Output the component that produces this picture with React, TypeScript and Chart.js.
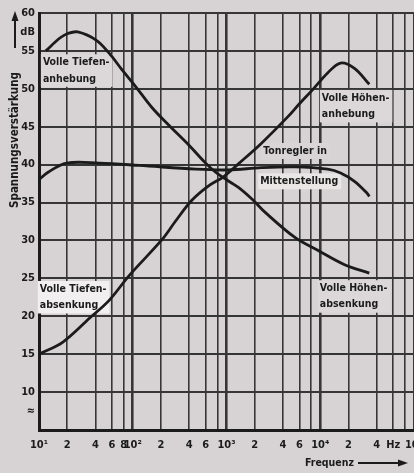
import React, { useEffect, useRef } from "react";
import { Chart, registerables } from "chart.js";

Chart.register(...registerables);

// ---------- data ----------
const freqDown = [11.8, 16.7, 20.3, 25.9, 41, 56, 77, 109, 161, 243, 396, 600, 822, 1340, 1930, 2590, 5370, 9420, 18200, 33400];
const gainDown = [55.0, 56.7, 57.3, 57.5, 56.4, 54.7, 52.5, 50.2, 47.5, 45.2, 42.6, 40.2, 38.7, 37.0, 35.3, 33.7, 30.4, 28.7, 26.8, 25.7];

const freqUp = [10, 18, 35, 56, 92, 205, 288, 427, 645, 930, 1340, 2350, 4500, 6070, 8320, 12000, 16500, 23200, 33400];
const gainUp = [15.0, 16.6, 19.8, 22.1, 25.4, 30.1, 32.6, 35.3, 37.2, 38.4, 40.1, 42.8, 46.3, 48.1, 49.9, 52.1, 53.4, 52.7, 50.6];

const freqMid = [10, 12.5, 19.7, 44, 117, 470, 1050, 2350, 5370, 12000, 16500, 23200, 31800, 33400];
const gainMid = [38.0, 39.0, 40.2, 40.2, 39.9, 39.4, 39.3, 39.6, 39.7, 39.4, 38.9, 37.8, 36.2, 35.8];

const xTicks = [10, 20, 40, 60, 80, 100, 200, 400, 600, 800, 1000, 2000, 4000, 6000, 8000, 10000, 20000, 40000, 60000, 80000, 100000];
const xTickLabels = ["10¹", "2", "4", "6", "8", "10²", "2", "4", "6", "", "10³", "2", "4", "6", "", "10⁴", "2", "4", "Hz", "", "10⁵"];

const yTicks = [5, 7.5, 10, 15, 20, 25, 30, 35, 40, 45, 50, 55, 57.5, 60];
const yTickLabels = ["", "≈", "10", "15", "20", "25", "30", "35", "40", "45", "50", "55", "dB", "60"];

const annotTexts = [
  ["Volle Tiefen-", "anhebung"],
  ["Volle Höhen-", "anhebung"],
  ["Tonregler in"],
  ["Mittenstellung"],
  ["Volle Höhen-", "absenkung"],
  ["Volle Tiefen-", "absenkung"],
];
const annotFreq = [11, 10400, 2470, 2290, 9890, 10.2];
const annotGain = [53.5, 48.8, 41.8, 37.8, 23.7, 23.6];
const annotBg = ["#dcd8d9", "#dcd8d9", "#d9d5d6", "#e9e6e6", "#dcd8d9", "#f1efef"];

const yTitle = "Spannungsverstärkung";
const xTitle = "Frequenz";

// ---------- styles ----------
const PAPER = "#d7d2d4";
const INK = "#1b1b1b";
const GRID = "#363636";
const FONT = '"Liberation Sans Narrow", "DejaVu Sans Condensed", "Arial Narrow", sans-serif';

const isDecade = (v: number) => Math.abs(Math.log10(v) - Math.round(Math.log10(v))) < 1e-9;

export default function App() {
  const ref = useRef<HTMLCanvasElement>(null);

  useEffect(() => {
    const canvas = ref.current;
    if (!canvas) return;

    const pts = (xs: number[], ys: number[]) => xs.map((x, i) => ({ x, y: ys[i] }));
    const ds = (label: string, data: { x: number; y: number }[]) => ({
      label,
      data,
      borderColor: INK,
      borderWidth: 2.8,
      pointRadius: 0,
      fill: false,
      tension: 0.35,
    });

    const LH = 16.5;

    const paperPlugin = {
      id: "paper",
      beforeDraw(chart: any) {
        const { ctx, width, height } = chart;
        ctx.save();
        ctx.fillStyle = PAPER;
        ctx.fillRect(0, 0, width, height);
        ctx.restore();
      },
      beforeDatasetsDraw(chart: any) {
        const { ctx, scales } = chart;
        ctx.save();
        ctx.font = `bold 10.5px ${FONT}`;
        annotTexts.forEach((lines, i) => {
          const x = scales.x.getPixelForValue(annotFreq[i]);
          const y = scales.y.getPixelForValue(annotGain[i]);
          const w = Math.max(...lines.map((l) => ctx.measureText(l).width));
          ctx.fillStyle = annotBg[i];
          ctx.fillRect(x - 2, y - 8, w + 5, (lines.length - 1) * LH + 16);
        });
        ctx.restore();
      },
      afterDatasetsDraw(chart: any) {
        const { ctx, scales } = chart;
        ctx.save();
        ctx.font = `bold 10.5px ${FONT}`;
        ctx.fillStyle = INK;
        ctx.textBaseline = "middle";
        ctx.textAlign = "left";
        annotTexts.forEach((lines, i) => {
          const x = scales.x.getPixelForValue(annotFreq[i]);
          const y = scales.y.getPixelForValue(annotGain[i]);
          lines.forEach((l, j) => ctx.fillText(l, x, y + j * LH));
        });
        ctx.restore();
      },
      afterDraw(chart: any) {
        const { ctx, chartArea } = chart;
        ctx.save();
        ctx.fillStyle = INK;
        ctx.strokeStyle = INK;
        // y title, rotated
        ctx.font = `bold 11.5px ${FONT}`;
        ctx.translate(15, 140);
        ctx.rotate(-Math.PI / 2);
        ctx.textAlign = "center";
        ctx.textBaseline = "middle";
        ctx.fillText(yTitle, 0, 0);
        ctx.setTransform(1, 0, 0, 1, 0, 0);
        // y arrow
        ctx.lineWidth = 2;
        ctx.beginPath();
        ctx.moveTo(15, 48);
        ctx.lineTo(15, chartArea.top + 4);
        ctx.stroke();
        ctx.beginPath();
        ctx.moveTo(15, chartArea.top - 2);
        ctx.lineTo(11.5, chartArea.top + 8);
        ctx.lineTo(18.5, chartArea.top + 8);
        ctx.closePath();
        ctx.fill();
        // x title and arrow
        ctx.font = `bold 10.5px ${FONT}`;
        ctx.textAlign = "left";
        ctx.textBaseline = "middle";
        ctx.fillText(xTitle, 305, 463);
        ctx.beginPath();
        ctx.moveTo(358, 463);
        ctx.lineTo(400, 463);
        ctx.stroke();
        ctx.beginPath();
        ctx.moveTo(408, 463);
        ctx.lineTo(398, 459.5);
        ctx.lineTo(398, 466.5);
        ctx.closePath();
        ctx.fill();
        ctx.restore();
      },
    };

    const chart = new Chart(canvas, {
      type: "line",
      data: {
        datasets: [
          ds("Tiefenanhebung / Höhenabsenkung", pts(freqDown, gainDown)),
          ds("Tiefenabsenkung / Höhenanhebung", pts(freqUp, gainUp)),
          ds("Mittenstellung", pts(freqMid, gainMid)),
        ],
      },
      options: {
        animation: false,
        responsive: false,
        devicePixelRatio: 1,
        layout: { padding: { top: 13, right: 15, left: 0, bottom: 0 } },
        plugins: { legend: { display: false }, tooltip: { enabled: false }, title: { display: false } },
        scales: {
          x: {
            type: "logarithmic",
            min: 10,
            max: 100000,
            afterBuildTicks: (s: any) => {
              s.ticks = xTicks.map((v) => ({ value: v }));
            },
            afterFit: (s: any) => {
              s.height = 43;
            },
            ticks: {
              autoSkip: false,
              maxRotation: 0,
              minRotation: 0,
              padding: 9,
              color: INK,
              font: { family: FONT, size: 11, weight: "bold" },
              callback: (v: any) => {
                const i = xTicks.indexOf(Number(v));
                return i >= 0 ? xTickLabels[i] : "";
              },
            },
            grid: {
              drawTicks: false,
              color: GRID,
              lineWidth: (c: any) => (c.tick && isDecade(c.tick.value) ? 2.6 : 1.6),
            },
            border: { display: true, color: INK, width: 3 },
          },
          y: {
            type: "linear",
            min: 5,
            max: 60,
            afterBuildTicks: (s: any) => {
              s.ticks = yTicks.map((v) => ({ value: v }));
            },
            afterFit: (s: any) => {
              s.width = 39;
            },
            ticks: {
              autoSkip: false,
              padding: 4,
              color: INK,
              font: { family: FONT, size: 11, weight: "bold" },
              callback: (v: any) => {
                const i = yTicks.indexOf(Number(v));
                return i >= 0 ? yTickLabels[i] : "";
              },
            },
            grid: {
              drawTicks: false,
              color: (c: any) => (c.tick && c.tick.value % 5 === 0 ? GRID : "rgba(0,0,0,0)"),
              lineWidth: 2,
            },
            border: { display: true, color: INK, width: 3 },
          },
        },
      },
      plugins: [paperPlugin],
    } as any);

    return () => chart.destroy();
  }, []);

  return (
    <div
      style={{
        position: "absolute",
        left: 0,
        top: 0,
        width: 414,
        height: 473,
        overflow: "hidden",
        background: PAPER,
      }}
    >
      <canvas ref={ref} width={432} height={473} style={{ display: "block", width: 432, height: 473 }} />
    </div>
  );
}
